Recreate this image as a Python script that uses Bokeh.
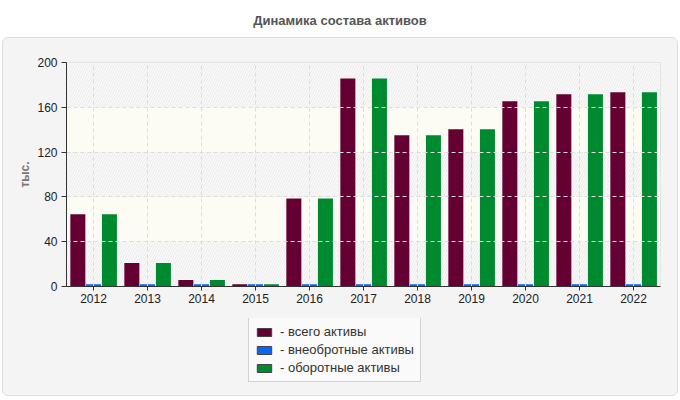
from bokeh.plotting import figure
from bokeh.models import (ColumnDataSource, FactorRange, Range1d, BoxAnnotation,
                          Legend, LegendItem, Div, InlineStyleSheet)
from bokeh.layouts import column
from bokeh.transform import dodge
from bokeh.embed import file_html
from bokeh.resources import INLINE

# Asset structure by year, thousands
years = ["2012", "2013", "2014", "2015", "2016", "2017", "2018", "2019", "2020", "2021", "2022"]
total_assets = [64.5, 21, 5.9, 2, 78.6, 185.7, 135.1, 140.4, 165.4, 171.7, 173.5]
noncurrent_assets = [2, 2, 2, 2, 2, 2, 2, 2, 2, 2, 2]
current_assets = [64.5, 21, 5.9, 2, 78.6, 185.7, 135.1, 140.4, 165.4, 171.7, 173.5]

series_labels = ["- всего активы", "- внеобротные активы", "- оборотные активы"]
series_colors = ["#650032", "#0a66f0", "#008a30"]
series_fields = ["total", "noncur", "cur"]
y_ticks = [0, 40, 80, 120, 160, 200]

FONT = "Liberation Sans"
PANEL = "#f4f4f4"

source = ColumnDataSource(data=dict(
    year=years, total=total_assets, noncur=noncurrent_assets, cur=current_assets))

# ---- main chart ----
p = figure(
    x_range=FactorRange(*years), y_range=Range1d(0, 200),
    width=674, height=280, output_backend="svg", toolbar_location=None,
    min_border_left=63, min_border_right=17, min_border_top=24, min_border_bottom=32,
    background_fill_color="#fcfcf4", border_fill_color=PANEL,
    outline_line_color="#dddddd",
)

# alternating hatched bands
for lo, hi in [(0, 40), (80, 120), (160, 200)]:
    p.add_layout(BoxAnnotation(bottom=lo, top=hi,
                               fill_color="#fafafa", fill_alpha=1,
                               hatch_pattern="/", hatch_color="#eaeaea", hatch_scale=5,
                               hatch_weight=1, line_color=None, level="underlay"))

bar_w = 0.278
offsets = [-0.29, 0.0, 0.295]
for field, color, off in zip(series_fields, series_colors, offsets):
    p.vbar(x=dodge("year", off, range=p.x_range), top=field, width=bar_w,
           source=source, color=color, line_color=None)

# grids drawn above the background bands, below the bars
for g in (p.xgrid, p.ygrid):
    g.grid_line_color = "#dddddd"
    g.grid_line_dash = "4 3"
    g.grid_line_width = 1
    g.level = "glyph"

# axes
p.yaxis.ticker = y_ticks
p.yaxis.axis_label = "тыс."
p.yaxis.axis_label_text_font = FONT
p.yaxis.axis_label_text_font_style = "bold"
p.yaxis.axis_label_text_font_size = "12px"
p.yaxis.axis_label_text_color = "#777777"
p.yaxis.axis_label_standoff = 2
for ax in (p.xaxis, p.yaxis):
    ax.axis_line_color = "#333333"
    ax.major_tick_line_color = "#333333"
    ax.minor_tick_line_color = None
    ax.major_tick_in = 0
    ax.major_label_text_font = FONT
    ax.major_label_text_font_size = "12px"
    ax.major_label_text_color = "#222222"
p.yaxis.major_tick_out = 5
p.xaxis.major_tick_out = 4
p.xaxis.major_label_standoff = 3
p.yaxis.major_label_standoff = 4

# ---- legend strip under the chart ----
# hidden copies of the series: only their legend swatches are shown
lf = figure(
    x_range=FactorRange(*years), y_range=Range1d(0, 1),
    width=674, height=77, output_backend="svg", toolbar_location=None,
    x_axis_type=None, y_axis_type=None,
    min_border=0, background_fill_color=PANEL, border_fill_color=PANEL,
    outline_line_color=None,
)
lf.xgrid.visible = False
lf.ygrid.visible = False
swatches = [lf.vbar(x="year", top=field, width=0.2, source=source,
                    fill_color=color, line_color="#444444", visible=False)
            for field, color in zip(series_fields, series_colors)]

legend = Legend(
    items=[LegendItem(label=lab, renderers=[r]) for lab, r in zip(series_labels, swatches)],
    location=(182, 13), orientation="vertical",
    background_fill_color="#fafafa", background_fill_alpha=1,
    border_line_color="#aaaaaa", border_line_width=1,
    inactive_fill_alpha=0,
    label_text_font=FONT, label_text_font_size="13px", label_text_color="#333333",
    glyph_width=18, glyph_height=10, label_height=13, label_standoff=7,
    spacing=3, padding=6, margin=0,
)
lf.add_layout(legend, "center")

title = Div(
    text="Динамика состава активов", width=680, height=37, margin=0,
    styles={"text-align": "center", "font-weight": "bold", "font-size": "13px",
            "color": "#555555", "font-family": FONT, "line-height": "41px"},
)

panel = column(p, lf, spacing=0, stylesheets=[InlineStyleSheet(css=(
    ":host { border: 1px solid #dddddd; border-radius: 6px; background: #f4f4f4;"
    " margin-left: 2px; overflow: hidden; }"))])

layout = column(title, panel, spacing=0)

open("out.html", "w").write(file_html(layout, INLINE))
